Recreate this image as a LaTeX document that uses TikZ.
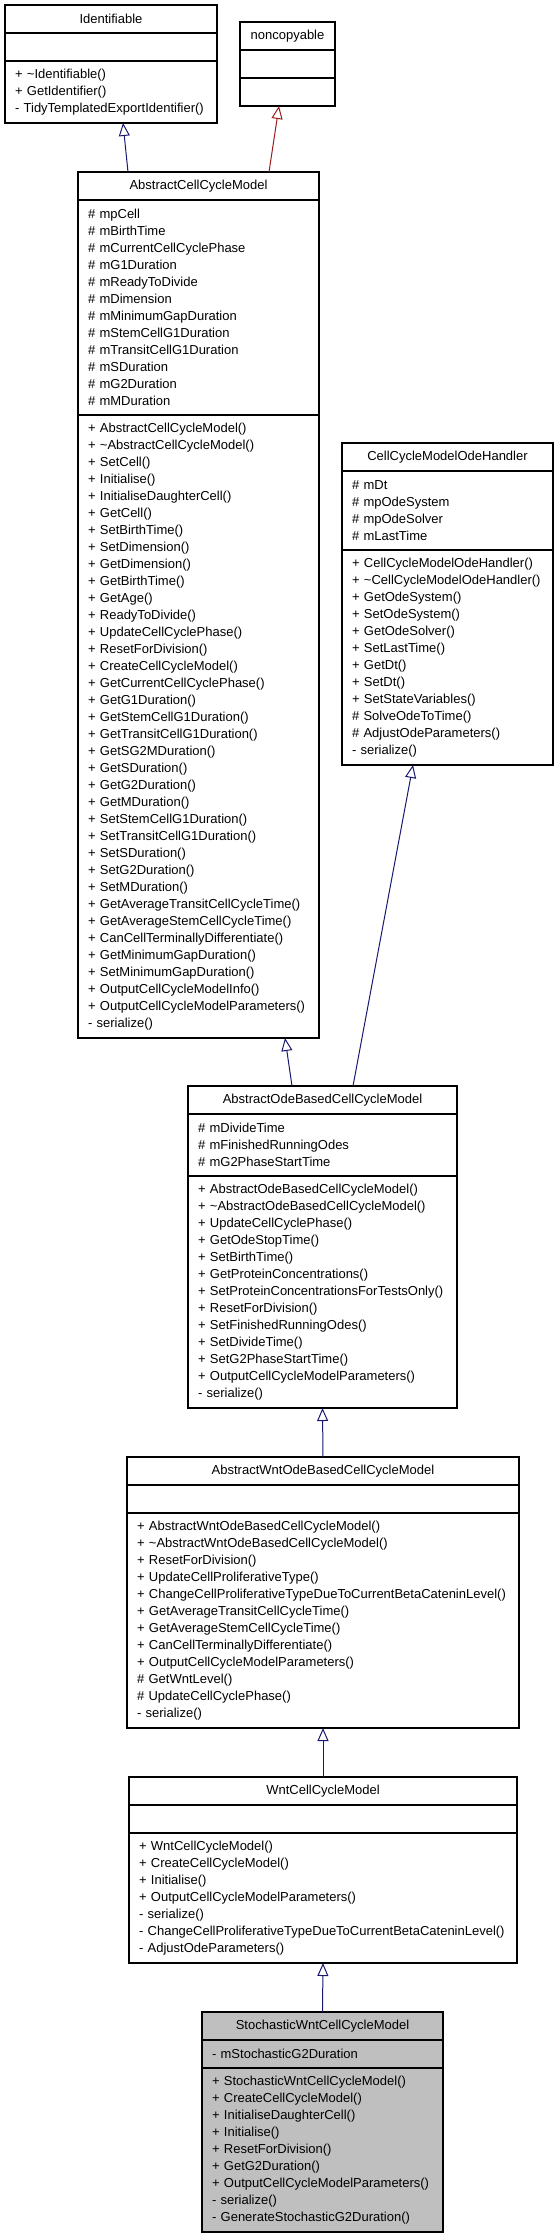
\documentclass[tikz,border=0pt]{standalone}
\usepackage{fontspec}
\setmainfont{Liberation Sans}
\usetikzlibrary{arrows.meta}

\definecolor{inheritblue}{RGB}{25,25,112}
\definecolor{privatered}{RGB}{155,28,28}

\begin{document}
\begin{tikzpicture}[x=1pt, y=-1pt,
		font=\fontsize{13}{17}\selectfont,
		part/.style={draw=black, line width=1.1pt, outer sep=0pt, anchor=north west,
			inner xsep=10pt, inner ysep=2pt, align=left},
		head/.style={part, align=center, minimum height=28pt},
		blank/.style={part, minimum height=28pt},
		rows/.style={minimum height=#1*17pt+11pt},
		inherit/.style={draw=inheritblue, line width=1pt,
			-{Triangle[open, length=13pt, width=11pt]}},
		privinherit/.style={inherit, draw=privatered}]
	\useasboundingbox (0,0) rectangle (559,2237);
	
	% Identifiable
	\node[head, text width=192pt] (identhead) at (5,5) {Identifiable};
	\node[blank, text width=192pt] (identattr) at (identhead.south west) {};
	\node[part, rows=3, text width=192pt] (identop) at (identattr.south west)
		{+ \textasciitilde Identifiable()\\+ GetIdentifier()\\- TidyTemplatedExportIdentifier()};
	
	% noncopyable
	\node[head, text width=75pt] (nocopyhead) at (240,22) {noncopyable};
	\node[blank, text width=75pt] (nocopyattr) at (nocopyhead.south west) {};
	\node[blank, text width=75pt] (nocopyop) at (nocopyattr.south west) {};
	
	% AbstractCellCycleModel
	\node[head, text width=221pt] (accmhead) at (78,172) {AbstractCellCycleModel};
	\node[part, rows=12, text width=221pt] (accmattr) at (accmhead.south west)
		{\# mpCell\\\# mBirthTime\\\# mCurrentCellCyclePhase\\\# mG1Duration\\
		\# mReadyToDivide\\\# mDimension\\\# mMinimumGapDuration\\\# mStemCellG1Duration\\
		\# mTransitCellG1Duration\\\# mSDuration\\\# mG2Duration\\\# mMDuration};
	\node[part, rows=36, text width=221pt] (accmop) at (accmattr.south west)
		{+ AbstractCellCycleModel()\\+ \textasciitilde AbstractCellCycleModel()\\+ SetCell()\\
		+ Initialise()\\+ InitialiseDaughterCell()\\+ GetCell()\\+ SetBirthTime()\\
		+ SetDimension()\\+ GetDimension()\\+ GetBirthTime()\\+ GetAge()\\+ ReadyToDivide()\\
		+ UpdateCellCyclePhase()\\+ ResetForDivision()\\+ CreateCellCycleModel()\\
		+ GetCurrentCellCyclePhase()\\+ GetG1Duration()\\+ GetStemCellG1Duration()\\
		+ GetTransitCellG1Duration()\\+ GetSG2MDuration()\\+ GetSDuration()\\
		+ GetG2Duration()\\+ GetMDuration()\\+ SetStemCellG1Duration()\\
		+ SetTransitCellG1Duration()\\+ SetSDuration()\\+ SetG2Duration()\\
		+ SetMDuration()\\+ GetAverageTransitCellCycleTime()\\
		+ GetAverageStemCellCycleTime()\\+ CanCellTerminallyDifferentiate()\\
		+ GetMinimumGapDuration()\\+ SetMinimumGapDuration()\\
		+ OutputCellCycleModelInfo()\\+ OutputCellCycleModelParameters()\\- serialize()};
	
	% CellCycleModelOdeHandler
	\node[head, text width=191pt] (odehead) at (342,443) {CellCycleModelOdeHandler};
	\node[part, rows=4, text width=191pt] (odeattr) at (odehead.south west)
		{\# mDt\\\# mpOdeSystem\\\# mpOdeSolver\\\# mLastTime};
	\node[part, rows=12, text width=191pt] (odeop) at (odeattr.south west)
		{+ CellCycleModelOdeHandler()\\+ \textasciitilde CellCycleModelOdeHandler()\\
		+ GetOdeSystem()\\+ SetOdeSystem()\\+ GetOdeSolver()\\+ SetLastTime()\\
		+ GetDt()\\+ SetDt()\\+ SetStateVariables()\\\# SolveOdeToTime()\\
		\# AdjustOdeParameters()\\- serialize()};
	
	% AbstractOdeBasedCellCycleModel
	\node[head, text width=249pt] (aobhead) at (188,1086) {AbstractOdeBasedCellCycleModel};
	\node[part, rows=3, text width=249pt] (aobattr) at (aobhead.south west)
		{\# mDivideTime\\\# mFinishedRunningOdes\\\# mG2PhaseStartTime};
	\node[part, rows=13, text width=249pt] (aobop) at (aobattr.south west)
		{+ AbstractOdeBasedCellCycleModel()\\+ \textasciitilde AbstractOdeBasedCellCycleModel()\\
		+ UpdateCellCyclePhase()\\+ GetOdeStopTime()\\+ SetBirthTime()\\
		+ GetProteinConcentrations()\\+ SetProteinConcentrationsForTestsOnly()\\
		+ ResetForDivision()\\+ SetFinishedRunningOdes()\\+ SetDivideTime()\\
		+ SetG2PhaseStartTime()\\+ OutputCellCycleModelParameters()\\- serialize()};
	
	% AbstractWntOdeBasedCellCycleModel
	\node[head, text width=372pt] (awnthead) at (127,1457) {AbstractWntOdeBasedCellCycleModel};
	\node[blank, text width=372pt] (awntattr) at (awnthead.south west) {};
	\node[part, rows=12, text width=372pt] (awntop) at (awntattr.south west)
		{+ AbstractWntOdeBasedCellCycleModel()\\+ \textasciitilde AbstractWntOdeBasedCellCycleModel()\\
		+ ResetForDivision()\\+ UpdateCellProliferativeType()\\
		+~ChangeCellProliferativeTypeDueToCurrentBetaCateninLevel()\\
		+ GetAverageTransitCellCycleTime()\\+ GetAverageStemCellCycleTime()\\
		+ CanCellTerminallyDifferentiate()\\+ OutputCellCycleModelParameters()\\
		\# GetWntLevel()\\\# UpdateCellCyclePhase()\\- serialize()};
	
	% WntCellCycleModel
	\node[head, text width=368pt] (wnthead) at (129,1777) {WntCellCycleModel};
	\node[blank, text width=368pt] (wntattr) at (wnthead.south west) {};
	\node[part, rows=7, text width=368pt] (wntop) at (wntattr.south west)
		{+ WntCellCycleModel()\\+ CreateCellCycleModel()\\+ Initialise()\\
		+ OutputCellCycleModelParameters()\\- serialize()\\
		-~ChangeCellProliferativeTypeDueToCurrentBetaCateninLevel()\\- AdjustOdeParameters()};
	
	% StochasticWntCellCycleModel (grey)
	\node[head, fill=gray!50, text width=221pt] (swnthead) at (202,2012) {StochasticWntCellCycleModel};
	\node[part, rows=1, fill=gray!50, text width=221pt] (swntattr) at (swnthead.south west)
		{- mStochasticG2Duration};
	\node[part, rows=9, fill=gray!50, text width=221pt] (swntop) at (swntattr.south west)
		{+ StochasticWntCellCycleModel()\\+ CreateCellCycleModel()\\+ InitialiseDaughterCell()\\
		+ Initialise()\\+ ResetForDivision()\\+ GetG2Duration()\\
		+ OutputCellCycleModelParameters()\\- serialize()\\- GenerateStochasticG2Duration()};
	
	% Inheritance arrows
	\draw[inherit] ([xshift=50pt]accmhead.north west) -- ([xshift=118pt]identop.south west);
	\draw[privinherit] ([xshift=191pt]accmhead.north west) -- ([xshift=39pt]nocopyop.south west);
	\draw[inherit] ([xshift=104pt]aobhead.north west) -- ([xshift=207pt]accmop.south west);
	\draw[inherit] ([xshift=165pt]aobhead.north west) -- ([xshift=71pt]odeop.south west);
	\draw[inherit] (awnthead.north) -- (aobop.south);
	\draw[inherit] (wnthead.north) -- (awntop.south);
	\draw[inherit] (swnthead.north) -- (wntop.south);
\end{tikzpicture}
\end{document}
